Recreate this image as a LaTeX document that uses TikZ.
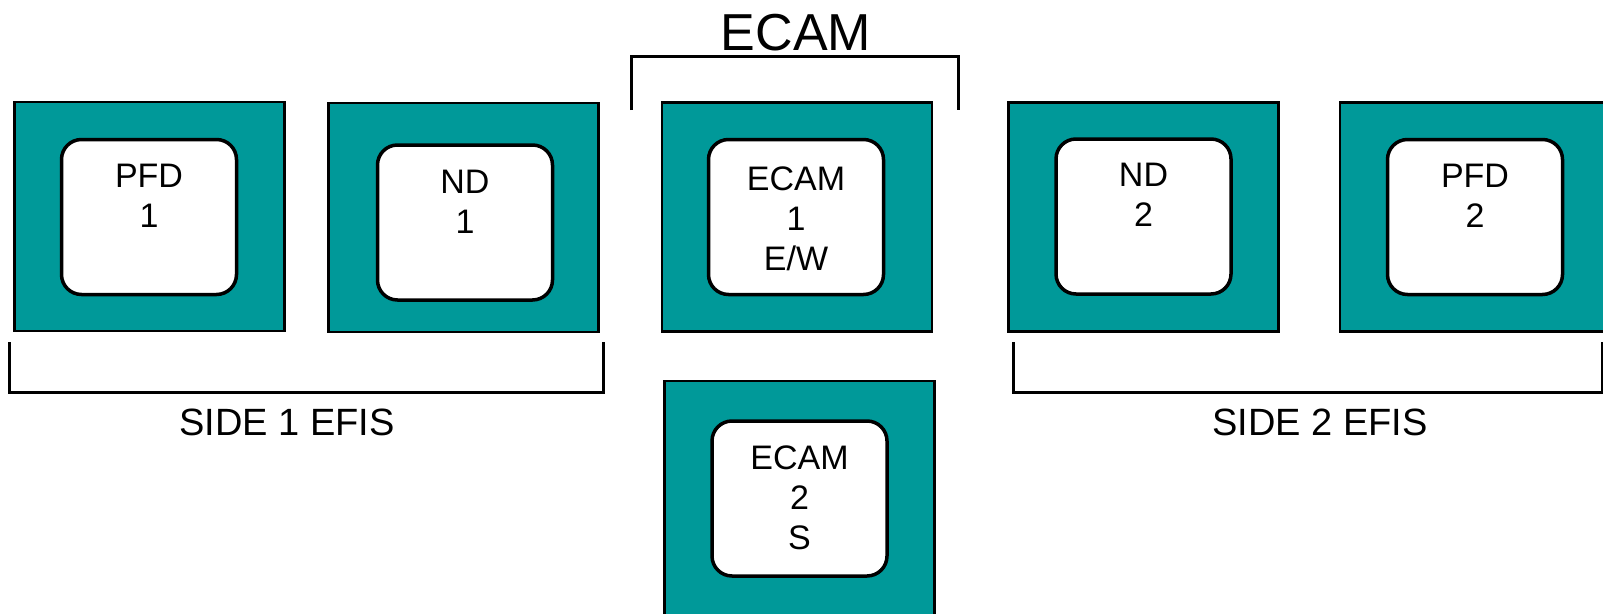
\documentclass[tikz,border=0pt]{standalone}
\usepackage{fontspec}
\setmainfont{Liberation Sans}
\definecolor{panel_teal}{RGB}{0, 153, 153}
\usetikzlibrary{positioning}

\begin{document}
\begin{tikzpicture}[
    x=1pt, y=-1pt,
    every node/.style={inner sep=0pt, outer sep=0pt},
    frame/.style={draw=black, fill=panel_teal, line width=2.5pt,
                  minimum width=270pt, minimum height=229pt},
    screen/.style={draw=black, fill=white, line width=3.5pt, rounded corners=20pt,
                   minimum width=175pt, minimum height=155pt},
    screentext/.style={font=\fontsize{34}{40}\selectfont, align=center},
    caption/.style={font=\fontsize{38}{44}\selectfont},
    bracket/.style={draw=black, line width=3pt},
  ]
  \useasboundingbox (0,0) rectangle (1603,613);

  % display units
  \node[frame]  (pfd1)  at (149.5,216.5) {};
  \node[frame]  (nd1)   at (463.5,217.5) {};
  \node[frame]  (ecam1) at (797,217)     {};
  \node[frame]  (nd2)   at (1143.5,217)  {};
  \node[frame]  (pfd2)  at (1475,217)    {};
  \node[frame, minimum height=250pt] (ecam2) at (799.5,506) {};

  % screens
  \node[screen] (pfd1scr)  at (149,217)     {};
  \node[screen] (nd1scr)   at (465,222.5)   {};
  \node[screen] (ecam1scr) at (796,217)     {};
  \node[screen] (nd2scr)   at (1143.5,216.5){};
  \node[screen] (pfd2scr)  at (1475,217)    {};
  \node[screen] (ecam2scr) at (799.5,498.5) {};

  \node[screentext, below=25pt of pfd1scr.north]  (pfd1txt)  {PFD\\1};
  \node[screentext, below=25pt of nd1scr.north]   (nd1txt)   {ND\\1};
  \node[screentext, below=27pt of ecam1scr.north] (ecam1txt) {ECAM\\1\\E/W};
  \node[screentext, below=24pt of nd2scr.north]   (nd2txt)   {ND\\2};
  \node[screentext, below=25pt of pfd2scr.north]  (pfd2txt)  {PFD\\2};
  \node[screentext, below=25pt of ecam2scr.north] (ecam2txt) {ECAM\\2\\S};

  % groupings
  \draw[bracket] (631,110) -- (631,56) -- (958,56) -- (958,110);
  \draw[bracket] (9,342) -- (9,392) -- (603,392) -- (603,342);
  \draw[bracket] (1013,342) -- (1013,392) -- (1602,392) -- (1602,342);

  \node[font=\fontsize{52}{60}\selectfont] (ecamlbl) at (796,32.5) {ECAM};
  \node[caption] (side1lbl) at (287,422) {SIDE 1 EFIS};
  \node[caption] (side2lbl) at (1320,422) {SIDE 2 EFIS};
\end{tikzpicture}
\end{document}
